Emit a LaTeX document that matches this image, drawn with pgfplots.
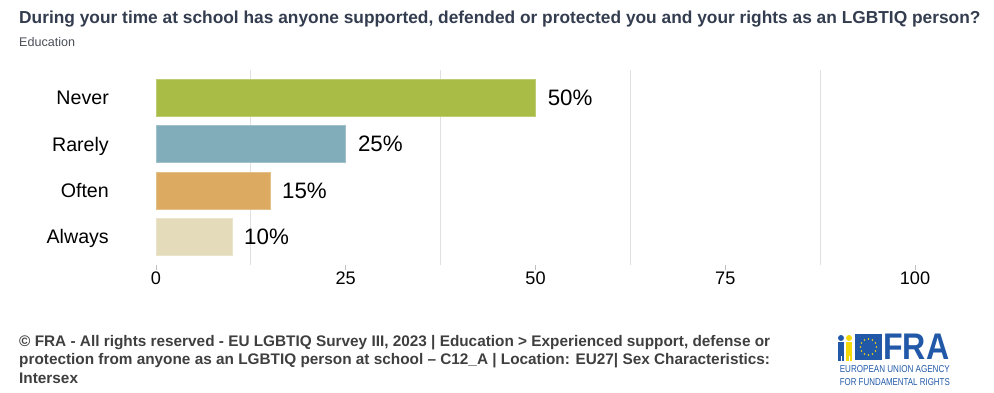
\documentclass[border=0pt]{standalone}
\usepackage{fontspec}
\setmainfont{Liberation Sans}
\usepackage{pgfplots}
\pgfplotsset{compat=1.18}
\usetikzlibrary{calc}
\definecolor{titlecol}{HTML}{333D4F}
\definecolor{subcol}{HTML}{4A4F59}
\definecolor{footcol}{HTML}{3F3F3F}
\definecolor{cNever}{HTML}{A9BD46}
\definecolor{cRarely}{HTML}{80ADB9}
\definecolor{cOften}{HTML}{DCAA60}
\definecolor{cAlways}{HTML}{E3DBBA}
\definecolor{gridcol}{HTML}{E0E0E0}
\definecolor{fraBlue}{HTML}{2159A8}
\definecolor{fraYellow}{HTML}{F5D90A}
\begin{document}
\begin{tikzpicture}
\path[use as bounding box] (0,0) rectangle (994bp,-393bp);
% title
\node[anchor=base west, inner sep=0pt, font=\fontsize{17.4}{20}\selectfont\bfseries, text=titlecol] at (19bp,-23bp) {During your time at school has anyone supported, defended or protected you and your rights as an LGBTIQ person?};
\node[anchor=base west, inner sep=0pt, font=\fontsize{12.6}{15}\selectfont, text=subcol] at (19bp,-46bp) {Education};
\begin{axis}[
  at={(156bp,-70bp)}, anchor=north west,
  scale only axis, width=759bp, height=194.6bp,
  xmin=0, xmax=100, ymin=-0.6, ymax=3.6, y dir=reverse,
  xbar, bar width=37bp, bar shift=0pt,
  axis line style={draw=none},
  xtick={0,25,50,75,100},
  minor xtick={12.5,37.5,62.5,87.5},
  minor grid style={gridcol, line width=0.8bp},
  xminorgrids=true,
  minor tick length=0pt,
  major tick length=5bp,
  tick align=outside,
  x tick style={draw=gray!50, line width=0.8bp},
  xtick pos=bottom,
  ytick={0,1,2,3},
  yticklabels={Never,Rarely,Often,Always},
  y tick style={draw=none},
  ytick pos=left,
  /pgf/number format/assume math mode=true,
  xticklabel style={font=\fontsize{18.2}{21}\selectfont, text=black, inner sep=2bp},
  yticklabel style={font=\fontsize{19.7}{22}\selectfont, text=black, anchor=base east, inner sep=0pt, xshift=-42bp, yshift=-7bp},
  point meta=x,
  nodes near coords={\pgfmathprintnumber{\pgfplotspointmeta}\%},
  nodes near coords align={horizontal},
  every node near coord/.append style={font=\fontsize{22.4}{25}\selectfont, text=black, anchor=west, inner sep=0pt, xshift=12bp},
  clip=false,
]
\addplot[fill=cNever, draw=cNever!75!white, line width=0.6bp] coordinates {(50,0)};
\addplot[fill=cRarely, draw=cRarely!75!white, line width=0.6bp] coordinates {(25,1)};
\addplot[fill=cOften, draw=cOften!75!white, line width=0.6bp] coordinates {(15,2)};
\addplot[fill=cAlways, draw=cAlways!75!white, line width=0.6bp] coordinates {(10,3)};
\end{axis}
% footer
\node[anchor=north west, align=left, inner sep=0pt, text=footcol, font=\fontsize{15.4}{18.7}\selectfont\bfseries] at (19bp,-335bp) {© FRA - All rights reserved - EU LGBTIQ Survey III, 2023 | Education > Experienced support, defense or\\protection from anyone as an LGBTIQ person at school – C12\_A | Location: EU27| Sex Characteristics:\\Intersex};
% logo
\fill[fraBlue] (855bp,-334bp) rectangle (882bp,-360bp);
\foreach \a in {0,30,...,330} \fill[fraYellow] ($(868.5bp,-347bp)+(\a:8bp)$) circle (0.9bp);
\fill[fraBlue] (841bp,-338bp) circle (3bp);
\fill[fraBlue] (838bp,-342bp) rectangle (844bp,-356bp);
\fill[fraBlue] (838bp,-356bp) rectangle (840.5bp,-361bp);
\fill[fraBlue] (841.5bp,-356bp) rectangle (844bp,-361bp);
\fill[fraYellow] (849bp,-338bp) circle (3bp);
\fill[fraYellow] (846bp,-342bp) rectangle (852bp,-356bp);
\fill[fraYellow] (846bp,-356bp) rectangle (848.5bp,-361bp);
\fill[fraYellow] (849.5bp,-356bp) rectangle (852bp,-361bp);
\node[anchor=south west, inner sep=0pt, text=fraBlue, font=\fontsize{34}{34}\selectfont\bfseries] at (883bp,-359.5bp) {\resizebox{66bp}{25.5bp}{FRA}};
\node[anchor=north east, inner sep=0pt, text=fraBlue, font=\fontsize{9}{11}\selectfont] at (950bp,-365bp) {\resizebox{110bp}{7bp}{EUROPEAN UNION AGENCY}};
\node[anchor=north east, inner sep=0pt, text=fraBlue, font=\fontsize{9}{11}\selectfont] at (950bp,-378bp) {\resizebox{110bp}{7bp}{FOR FUNDAMENTAL RIGHTS}};
\end{tikzpicture}
\end{document}
